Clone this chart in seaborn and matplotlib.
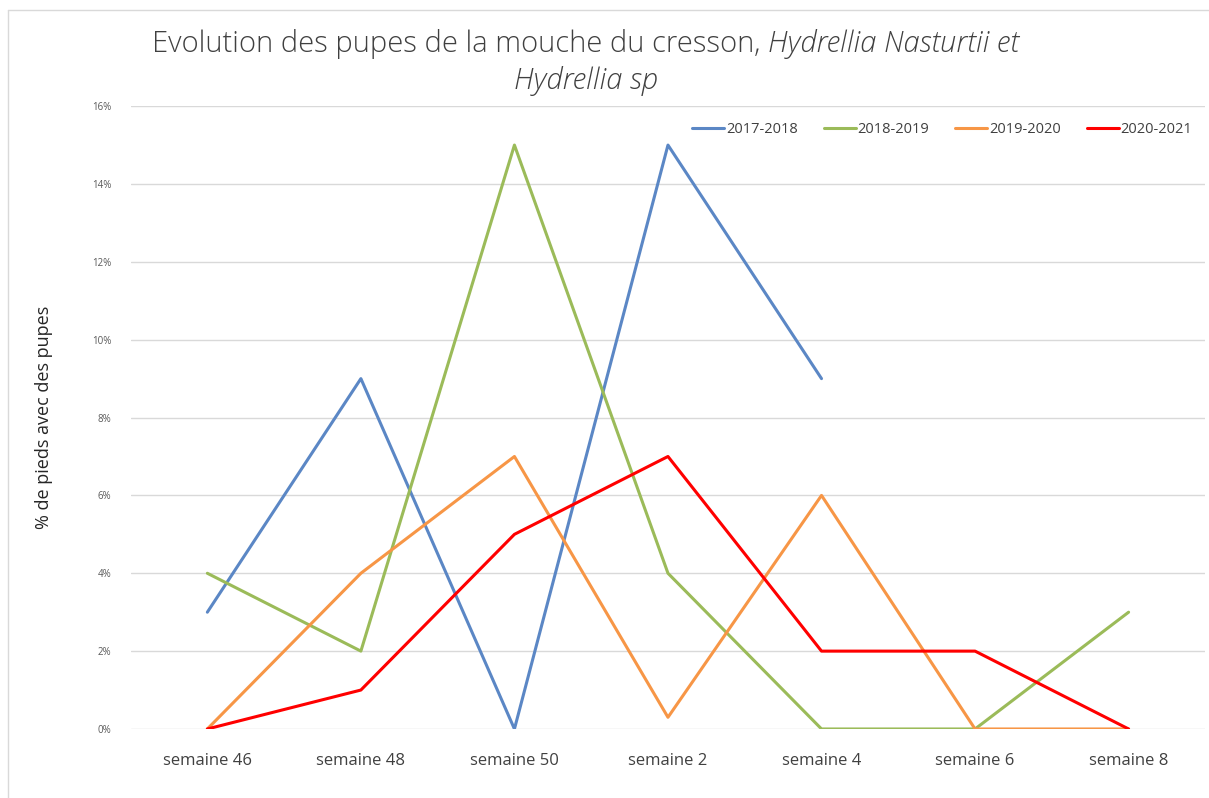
import pandas as pd
import numpy as np
import matplotlib.pyplot as plt
import seaborn as sns
from matplotlib.lines import Line2D

# -----------------------------------------------------------
# DATA (in %)
# -----------------------------------------------------------
weeks = ["semaine 46", "semaine 48", "semaine 50", "semaine 2",
         "semaine 4", "semaine 6", "semaine 8"]
seasons = ["2017-2018", "2018-2019", "2019-2020", "2020-2021"]

s2017_2018 = [3, 9, 0, 15, 9, None, None]
s2018_2019 = [4, 2, 15, 4, 0, 0, 3]
s2019_2020 = [0, 4, 7, 0.3, 6, 0, 0]
s2020_2021 = [0, 1, 5, 7, 2, 2, 0]

colors = ["#5B87C5", "#9BBB59", "#F79646", "#FF0000"]
yticks = [0, 2, 4, 6, 8, 10, 12, 14, 16]

# long format table for seaborn
rows = []
for season, vals in zip(seasons, [s2017_2018, s2018_2019, s2019_2020, s2020_2021]):
    for w, v in zip(weeks, vals):
        if v is not None:
            rows.append({"semaine": w, "saison": season, "pct": v})
df = pd.DataFrame(rows)

# -----------------------------------------------------------
# PLOT
# -----------------------------------------------------------
sns.set_style("white")
plt.rcParams["font.family"] = ["Open Sans", "DejaVu Sans"]

fig = plt.figure(figsize=(12.09, 7.98), dpi=100)
ax = fig.add_axes([0.108, 0.0865, 0.889, 0.7805])

sns.lineplot(data=df, x="semaine", y="pct", hue="saison", hue_order=seasons,
             palette=colors, linewidth=2.2, sort=False, ax=ax, legend=False)

ax.set_xlim(-0.5, len(weeks) - 0.5)
ax.set_ylim(0, 16)
ax.set_yticks(yticks)
ax.set_yticklabels([f"{t}%" for t in yticks], fontsize=7, color="#595959")
ax.set_xticks(range(len(weeks)))
ax.set_xticklabels(weeks, fontsize=12, color="#404040")
ax.tick_params(axis="x", length=0, pad=17)
ax.tick_params(axis="y", length=0, pad=14)
ax.yaxis.grid(True, color="#D9D9D9", linewidth=1)
ax.set_axisbelow(True)
for sp in ax.spines.values():
    sp.set_visible(False)
ax.set_xlabel("")
ax.set_ylabel("% de pieds avec des pupes", fontsize=13, color="#262626", labelpad=28)

handles = [Line2D([0], [0], color=c, linewidth=2.2) for c in colors]
ax.legend(handles, seasons, loc="upper right", bbox_to_anchor=(1.0, 0.995), ncol=4,
          frameon=False, fontsize=10.5, handlelength=2.2, handletextpad=0.1,
          columnspacing=1.8, labelcolor="#404040")

# title, with italic species part
title_kw = dict(fontsize=21, color="#404040", fontweight="light", va="baseline")
t1 = fig.text(0.126, 0.935, "Evolution des pupes de la mouche du cresson,", **title_kw)
fig.canvas.draw()
bb = t1.get_window_extent()
x_it = (bb.x1 + 7) / fig.bbox.width
fig.text(x_it, 0.935, "Hydrellia Nasturtii et", style="italic", **title_kw)
fig.text(0.485, 0.889, "Hydrellia sp", style="italic", ha="center", **title_kw)

# light frame around the chart
fig.add_artist(Line2D([8 / 1209, 8 / 1209], [0, 1 - 10 / 798], color="#D9D9D9", linewidth=1))
fig.add_artist(Line2D([8 / 1209, 1], [1 - 10 / 798, 1 - 10 / 798], color="#D9D9D9", linewidth=1))

plt.savefig("out.png", dpi=100)
plt.close()
